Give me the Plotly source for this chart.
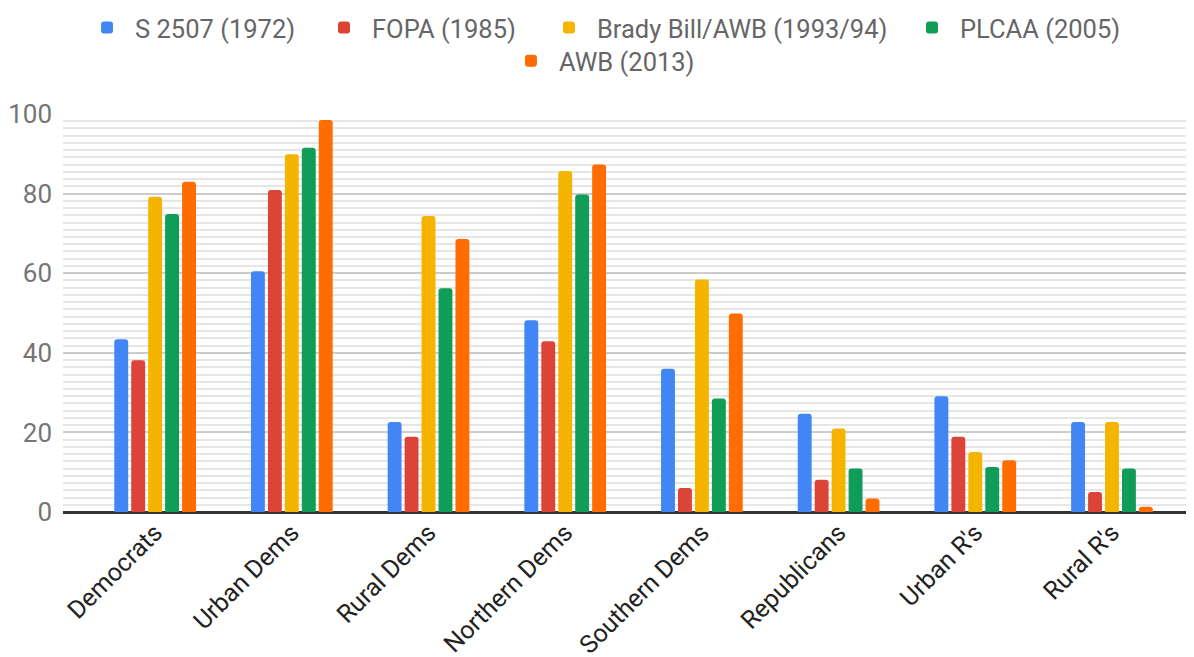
import plotly.graph_objects as go

categories = ["Democrats", "Urban Dems", "Rural Dems", "Northern Dems",
              "Southern Dems", "Republicans", "Urban R's", "Rural R's"]
series_names = ["S 2507 (1972)", "FOPA (1985)", "Brady Bill/AWB (1993/94)",
                "PLCAA (2005)", "AWB (2013)"]
s2507 = [43.4, 60.5, 22.6, 48.2, 36.0, 24.7, 29.1, 22.6]
fopa = [38.1, 80.9, 18.9, 42.9, 6.0, 8.1, 18.9, 5.0]
brady = [79.2, 89.9, 74.4, 85.7, 58.4, 21.0, 15.1, 22.6]
plcaa = [74.9, 91.5, 56.2, 79.8, 28.5, 10.9, 11.3, 10.9]
awb = [83.0, 98.5, 68.6, 87.3, 49.9, 3.4, 13.0, 1.3]
colors = ["#4285f4", "#db4437", "#f4b400", "#0f9d58", "#ff6d00"]
y_ticks = [0, 20, 40, 60, 80, 100]

# legend placement (paper coords) for each series
legend_x = [0.0142, 0.2237, 0.4226, 0.7436, 0.389]
legend_y = [1.216, 1.216, 1.216, 1.216, 1.133]

fig = go.Figure()
legend_ids = ["legend", "legend2", "legend3", "legend4", "legend5"]
for i, (name, vals) in enumerate(zip(series_names, [s2507, fopa, brady, plcaa, awb])):
    fig.add_trace(go.Bar(
        name=name, x=categories, y=vals, marker_color=colors[i],
        marker_line_width=0, legend=legend_ids[i], showlegend=True,
    ))

layout_legends = {}
for i, lid in enumerate(legend_ids):
    layout_legends[lid] = dict(
        orientation="h", x=legend_x[i], xanchor="left", y=legend_y[i], yanchor="middle",
        font=dict(size=25.5, color="#666666"), itemwidth=46,
        bgcolor="rgba(0,0,0,0)", visible=True,
    )

fig.update_layout(
    width=1186, height=649,
    showlegend=True,
    barmode="group", bargap=0.38, bargroupgap=0.18, barcornerradius=3,
    plot_bgcolor="white", paper_bgcolor="white",
    margin=dict(l=55, r=0, t=106, b=145, autoexpand=False),
    font=dict(family="Roboto", size=25, color="#757575"),
    xaxis=dict(range=[-0.674, 7.60], tickangle=-45, automargin=False,
               tickfont=dict(size=25, color="#222222"),
               showgrid=False, showline=False, ticks=""),
    yaxis=dict(range=[0, 100], tickvals=y_ticks, ticktext=[str(v) for v in y_ticks],
               automargin=False,
               showgrid=True, gridcolor="#cccccc", gridwidth=2,
               zeroline=True, zerolinecolor="#333333", zerolinewidth=3,
               minor=dict(dtick=20 / 11, tick0=0, showgrid=True,
                          gridcolor="#e6e6e6", gridwidth=2),
               ticklabelstandoff=10,
               tickfont=dict(size=26, color="#757575")),
    **layout_legends,
)

fig.write_html("out.html")
